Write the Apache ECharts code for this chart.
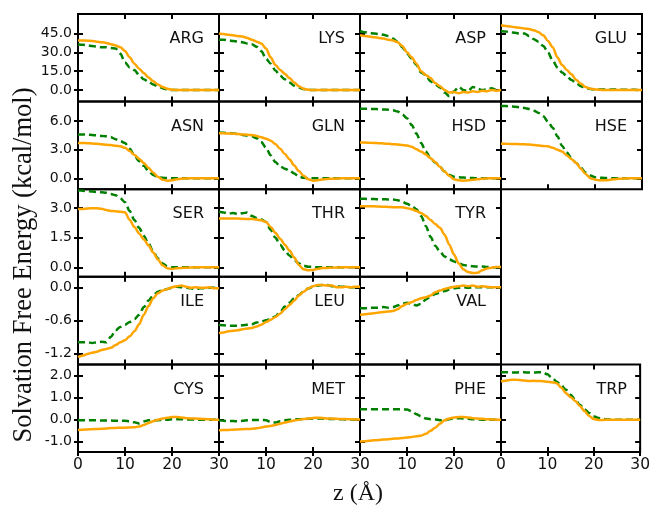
<!DOCTYPE html>
<html>
<head>
<meta charset="utf-8">
<script src="https://cdn.jsdelivr.net/npm/echarts@6/dist/echarts.min.js"></script>
<style>
  html, body { margin: 0; padding: 0; background: #fff; }
  #chart { width: 653px; height: 508px; }
</style>
</head>
<body>
<div id="chart"></div>
<script>
// z in Angstrom, shared by every panel
var z = [0,1,2,3,4,5,6,7,8,9,10,11,12,13,14,15,16,17,18,19,20,21,22,23,24,25,26,27,28,29,30];

// solid = orange curve, dashed = green curve (kcal/mol)
var ARG_solid  = [39.5,39.5,39.3,39,38.5,38,37.5,36.5,35.5,34,31,26,21,17,13.5,10,7,4.5,2.5,1,0.3,0,0,0,0,0,0,0,0,0,0];
var ARG_dashed = [36.5,36,35.5,35,34.5,34,34,33.5,33,29,22,18,16,12,8.5,6.5,4.5,3,1.5,0.5,0,0,0,0,0,0,0,0,0,0,0];
var LYS_solid  = [45,44.5,44,43.5,43,42.5,41.5,40,38.5,37,33,26,20,16,13,9.5,6,3,1,0.2,0,0,0,0,0,0,0,0,0,0,0];
var LYS_dashed = [40,40,39.5,39,38.5,38,37,36.5,34.5,31,25,21,15.5,11.5,8.5,6,3.5,2,0.8,0.2,0,0,0,0,0,0,0,0,0,0,0];
var ASP_solid  = [43.6,43,42.5,42,41.5,41,40,39.5,38,35,30,26,21,15,12,9.5,5.5,3,0,-2,-1.5,-2.5,-1.5,-2,-1,-1.5,-0.5,-1,0,-0.5,0];
var ASP_dashed = [47,46,45.5,45,44.5,44,43,41,38.5,34,29,25,20,14,12,7,4.5,2,-2,-5,-1,2.5,0,-1,2.5,1,0,0.5,1.5,0,0];
var GLU_solid  = [51.5,51,50.5,50,49.5,49,48.5,47.5,46,43.5,39,34,26,20,16,12.5,8,5,2.5,1,0.5,0.2,0,0,0,0,0,0,0,0,0];
var GLU_dashed = [47,46.5,46,45.5,45,45,43,40.5,38.5,35,30,23.5,18,14,11,8,5.5,3,1.5,0.8,0.5,0.5,0.5,0.3,0.5,0.3,0.3,0.2,0.2,0.1,0];

var ASN_solid  = [3.7,3.7,3.68,3.65,3.62,3.58,3.52,3.48,3.42,3.36,3.2,2.85,2.45,2.05,1.6,1.1,0.6,0.15,-0.15,-0.25,-0.2,-0.1,-0.05,-0.02,0,0,0,0,0,0,0];
var ASN_dashed = [4.6,4.6,4.58,4.55,4.5,4.45,4.4,4.3,4.1,3.9,3.7,3.1,2.4,1.8,1.3,0.75,0.35,0.1,0.05,0.02,0,0,0,0,0,0,0,0,0,0,0];
var GLN_solid  = [4.72,4.72,4.7,4.68,4.65,4.6,4.57,4.53,4.45,4.3,4.15,3.95,3.6,3.1,2.55,2.0,1.35,0.75,0.25,-0.1,-0.25,-0.2,-0.12,-0.08,-0.05,-0.03,0,0,0,0,0];
var GLN_dashed = [4.8,4.78,4.75,4.7,4.65,4.55,4.48,4.4,4.2,3.8,3.2,2.4,1.7,1.25,1.0,0.8,0.5,0.15,0.05,0,0,0,0,0,0,0,0,0,0,0,0];
var HSD_solid  = [3.76,3.75,3.73,3.7,3.68,3.65,3.62,3.58,3.54,3.5,3.45,3.3,3.05,2.8,2.5,2.1,1.7,1.2,0.7,0.25,-0.1,-0.22,-0.25,-0.22,-0.15,-0.1,-0.05,-0.02,0,0,0];
var HSD_dashed = [7.3,7.3,7.28,7.27,7.25,7.22,7.2,7.15,7.0,6.7,6.3,5.6,4.7,3.7,2.8,2.1,1.65,1.2,0.7,0.35,0.15,0.1,0.08,0.05,0.02,0,0,0,0,0,0];
var HSE_solid  = [3.62,3.62,3.6,3.6,3.58,3.56,3.55,3.5,3.45,3.4,3.35,3.2,3.0,2.8,2.4,2.0,1.6,1.0,0.45,0,-0.15,-0.22,-0.22,-0.18,-0.1,-0.06,-0.03,0,0,0,0];
var HSE_dashed = [7.6,7.58,7.55,7.5,7.45,7.38,7.27,7.1,6.85,6.5,5.95,5.3,4.4,3.4,2.7,2.1,1.6,1.1,0.6,0.3,0.1,0.05,0.03,0.02,0,0,0,0,0,0,0];

var SER_solid  = [2.96,2.96,2.98,3.0,3.0,2.97,2.9,2.86,2.84,2.82,2.79,2.4,2.05,1.72,1.42,1.12,0.75,0.4,0.1,-0.05,-0.08,-0.05,-0.03,-0.02,-0.01,0,0,0,0,0,0];
var SER_dashed = [3.9,3.88,3.86,3.84,3.82,3.8,3.78,3.72,3.65,3.5,3.3,2.85,2.4,2.0,1.6,1.2,0.8,0.45,0.2,0.05,0,0,0,0,0,0,0,0,0,0,0];
var THR_solid  = [2.48,2.48,2.48,2.47,2.47,2.46,2.45,2.45,2.42,2.38,2.3,2.05,1.75,1.45,1.15,0.85,0.5,0.12,-0.1,-0.15,-0.13,-0.08,-0.04,-0.03,-0.02,-0.01,0,0,0,0,0];
var THR_dashed = [2.82,2.78,2.72,2.75,2.7,2.74,2.78,2.6,2.5,2.42,2.3,1.9,1.5,1.15,0.85,0.6,0.38,0.2,0.08,0.03,0.02,0,0,0,0,0,0,0,0,0,0];
var TYR_solid  = [3.1,3.1,3.1,3.09,3.08,3.07,3.06,3.05,3.04,3.04,3.0,2.95,2.85,2.75,2.6,2.4,2.2,2.0,1.65,1.15,0.65,0.2,-0.1,-0.24,-0.29,-0.28,-0.15,-0.06,-0.02,0.02,0.02];
var TYR_dashed = [3.47,3.47,3.46,3.46,3.45,3.45,3.44,3.44,3.4,3.32,3.22,3.1,2.95,2.6,2.1,1.55,1.1,0.8,0.55,0.4,0.3,0.2,0.12,0.08,0.05,0.04,0.04,0.02,0.01,0,0];

var ILE_solid  = [-1.27,-1.24,-1.21,-1.19,-1.17,-1.14,-1.12,-1.1,-1.05,-1.0,-0.96,-0.89,-0.8,-0.67,-0.5,-0.34,-0.2,-0.11,-0.06,-0.03,0,0.02,0.03,0.01,-0.01,0,-0.01,-0.01,0,-0.02,-0.02];
var ILE_dashed = [-1.0,-1.0,-1.0,-1.01,-1.0,-0.99,-1.0,-0.9,-0.78,-0.72,-0.68,-0.63,-0.58,-0.5,-0.36,-0.24,-0.15,-0.08,-0.05,-0.03,-0.01,0.01,0,-0.01,-0.02,-0.03,-0.02,-0.02,-0.01,-0.01,-0.01];
var LEU_solid  = [-0.83,-0.82,-0.8,-0.79,-0.78,-0.76,-0.75,-0.74,-0.71,-0.68,-0.63,-0.59,-0.54,-0.48,-0.4,-0.32,-0.24,-0.15,-0.08,-0.02,0.02,0.04,0.04,0.03,0.03,0,0,0.01,0,0.01,0.01];
var LEU_dashed = [-0.68,-0.69,-0.7,-0.7,-0.7,-0.69,-0.68,-0.67,-0.64,-0.62,-0.6,-0.57,-0.53,-0.45,-0.35,-0.28,-0.2,-0.14,-0.08,-0.02,0.01,0.03,0.04,0.04,0.02,0.02,0.01,0.01,0,0,0];
var VAL_solid  = [-0.5,-0.49,-0.48,-0.47,-0.46,-0.45,-0.44,-0.43,-0.4,-0.34,-0.3,-0.27,-0.23,-0.2,-0.18,-0.15,-0.09,-0.06,-0.03,-0.01,0.01,0.02,0.03,0.02,0.03,0.01,0.02,0.01,0,0,0];
var VAL_dashed = [-0.38,-0.38,-0.37,-0.37,-0.37,-0.36,-0.37,-0.36,-0.33,-0.3,-0.28,-0.3,-0.33,-0.3,-0.22,-0.17,-0.12,-0.1,-0.07,-0.04,-0.02,-0.01,0,-0.01,0,0,0,0,0,0,0];

var CYS_solid  = [-0.46,-0.45,-0.44,-0.43,-0.42,-0.41,-0.4,-0.38,-0.37,-0.36,-0.36,-0.35,-0.34,-0.31,-0.24,-0.15,-0.07,0,0.05,0.09,0.12,0.12,0.1,0.07,0.06,0.05,0.04,0.03,0.02,0,0];
var CYS_dashed = [-0.02,-0.02,-0.03,-0.03,-0.03,-0.04,-0.04,-0.04,-0.05,-0.05,-0.05,-0.07,-0.12,-0.17,-0.08,-0.03,-0.02,-0.02,-0.01,0,0.02,0.02,0.02,0.01,0.01,0,0,0,0,0,0];
var MET_solid  = [-0.48,-0.47,-0.46,-0.45,-0.44,-0.43,-0.42,-0.41,-0.39,-0.35,-0.31,-0.28,-0.24,-0.18,-0.13,-0.08,-0.04,0,0.03,0.06,0.08,0.09,0.08,0.06,0.05,0.04,0.03,0.03,0.02,0.01,0.01];
var MET_dashed = [-0.03,-0.05,-0.06,-0.06,-0.07,-0.05,-0.03,-0.01,-0.01,-0.01,-0.02,-0.1,-0.13,-0.07,-0.02,0,0.01,0.02,0.03,0.04,0.05,0.05,0.05,0.04,0.03,0.03,0.02,0.01,0.01,0,0];
var PHE_solid  = [-0.98,-0.97,-0.95,-0.93,-0.92,-0.9,-0.88,-0.86,-0.85,-0.83,-0.81,-0.78,-0.75,-0.72,-0.64,-0.5,-0.36,-0.18,-0.03,0.06,0.1,0.12,0.12,0.1,0.07,0.05,0.04,0.02,0.01,0,0];
var PHE_dashed = [0.47,0.47,0.47,0.47,0.47,0.47,0.47,0.47,0.47,0.47,0.46,0.38,0.25,0.15,0.06,0.02,0.01,-0.02,-0.02,0.02,0.06,0.07,0.06,0.04,0.02,0.01,0,0,0,0,0];
var TRP_solid  = [1.74,1.76,1.8,1.81,1.79,1.77,1.75,1.76,1.75,1.74,1.72,1.69,1.65,1.45,1.2,1.02,0.85,0.62,0.39,0.17,0.03,-0.01,-0.01,0,0,0,0,0,0,0,0];
var TRP_dashed = [2.14,2.14,2.14,2.13,2.14,2.14,2.13,2.13,2.14,2.14,2.05,1.9,1.72,1.55,1.35,1.13,0.9,0.68,0.47,0.3,0.16,0.08,0.04,0.01,0,0,0,0,0,0,0];

// name, row, column, solid, dashed
var panels = [
  ['ARG',0,0,ARG_solid,ARG_dashed], ['LYS',0,1,LYS_solid,LYS_dashed], ['ASP',0,2,ASP_solid,ASP_dashed], ['GLU',0,3,GLU_solid,GLU_dashed],
  ['ASN',1,0,ASN_solid,ASN_dashed], ['GLN',1,1,GLN_solid,GLN_dashed], ['HSD',1,2,HSD_solid,HSD_dashed], ['HSE',1,3,HSE_solid,HSE_dashed],
  ['SER',2,0,SER_solid,SER_dashed], ['THR',2,1,THR_solid,THR_dashed], ['TYR',2,2,TYR_solid,TYR_dashed],
  ['ILE',3,0,ILE_solid,ILE_dashed], ['LEU',3,1,LEU_solid,LEU_dashed], ['VAL',3,2,VAL_solid,VAL_dashed],
  ['CYS',4,0,CYS_solid,CYS_dashed], ['MET',4,1,MET_solid,MET_dashed], ['PHE',4,2,PHE_solid,PHE_dashed], ['TRP',4,3,TRP_solid,TRP_dashed]
];

var rowTicks = [[0,15,30,45],[0,3,6],[0,1.5,3],[-1.2,-0.6,0],[-1,0,1,2]];
var rowMin = [-9.2,-1.15,-0.48,-1.4,-1.46];
var rowMax = [60.5,8.05,3.96,0.19,2.5];
var xTicks = [0,10,20,30];
var xLabelsByCol = [[0,10,20,30],[10,20,30],[10,20],[0,10,20,30]];

var gridLeft = 78, cellW = 141, gridTop = 14, cellH = 87.6;
var tickStyle = {color: '#000', width: 2};
var labelFont = 'DejaVu Sans';

var grids = [], xAxes = [], yAxes = [], series = [], graphics = [];

panels.forEach(function (p, k) {
  var name = p[0], row = p[1], col = p[2];
  var left = gridLeft + col * cellW, top = gridTop + row * cellH;
  grids.push({left: left, top: top, width: cellW, height: cellH, show: true,
    borderColor: '#000', borderWidth: 2, backgroundColor: 'transparent'});

  function xAxis(pos, inside, len, labels) {
    xAxes.push({
      gridIndex: k, type: 'value', position: pos, min: 0, max: 30,
      axisLine: {show: false, onZero: false}, splitLine: {show: false},
      axisTick: {show: true, inside: inside, length: len, lineStyle: tickStyle, customValues: xTicks},
      axisLabel: labels ? {show: true, customValues: labels, margin: 5, fontSize: 15.5,
        fontFamily: labelFont, color: '#111'} : {show: false}
    });
    return xAxes.length - 1;
  }
  function yAxis(pos, inside, len, labels) {
    yAxes.push({
      gridIndex: k, type: 'value', position: pos, min: rowMin[row], max: rowMax[row],
      axisLine: {show: false, onZero: false}, splitLine: {show: false},
      axisTick: {show: true, inside: inside, length: len, lineStyle: tickStyle, customValues: rowTicks[row]},
      axisLabel: labels ? {show: true, customValues: labels, margin: 6, fontSize: 14,
        fontFamily: labelFont, color: '#111', formatter: function (v) { return v.toFixed(1); }} : {show: false}
    });
    return yAxes.length - 1;
  }

  var xi = xAxis('bottom', true, 5, null);
  xAxis('top', true, 5, null);
  if (row === 4) xAxis('bottom', false, 4, xLabelsByCol[col]);
  var yi = yAxis('left', true, 5, null);
  yAxis('right', true, 5, null);
  if (col === 0) yAxis('left', false, 4, rowTicks[row]);

  series.push({
    type: 'line', xAxisIndex: xi, yAxisIndex: yi, showSymbol: false, smooth: 0.3, smoothMonotone: 'x',
    data: z.map(function (v, i) { return [v, p[4][i]]; }),
    lineStyle: {color: '#008000', width: 2.5, type: [7, 4]}, z: 2
  });
  series.push({
    type: 'line', xAxisIndex: xi, yAxisIndex: yi, showSymbol: false, smooth: 0.3, smoothMonotone: 'x',
    data: z.map(function (v, i) { return [v, p[3][i]]; }),
    lineStyle: {color: '#FFA500', width: 2.5}, z: 3
  });

  graphics.push({
    type: 'text', x: left + cellW - 15, y: top + 25, z: 10,
    style: {text: name, fill: '#111', font: '16px "DejaVu Sans"', textAlign: 'right', textVerticalAlign: 'middle'}
  });
});

graphics.push({
  type: 'text', x: 24, y: 265, rotation: Math.PI / 2,
  style: {text: 'Solvation Free Energy (kcal/mol)', fill: '#111', font: '26.5px "Liberation Serif"',
    textAlign: 'center', textVerticalAlign: 'middle'}
});
graphics.push({
  type: 'text', x: 358, y: 494,
  style: {text: 'z (Å)', fill: '#111', font: '24px "Liberation Serif"', textAlign: 'center', textVerticalAlign: 'middle'}
});

var myChart = echarts.init(document.getElementById('chart'));
var option = {
  animation: false,
  backgroundColor: '#fff',
  grid: grids,
  xAxis: xAxes,
  yAxis: yAxes,
  series: series,
  graphic: graphics
};
myChart.setOption(option);
</script>
</body>
</html>
